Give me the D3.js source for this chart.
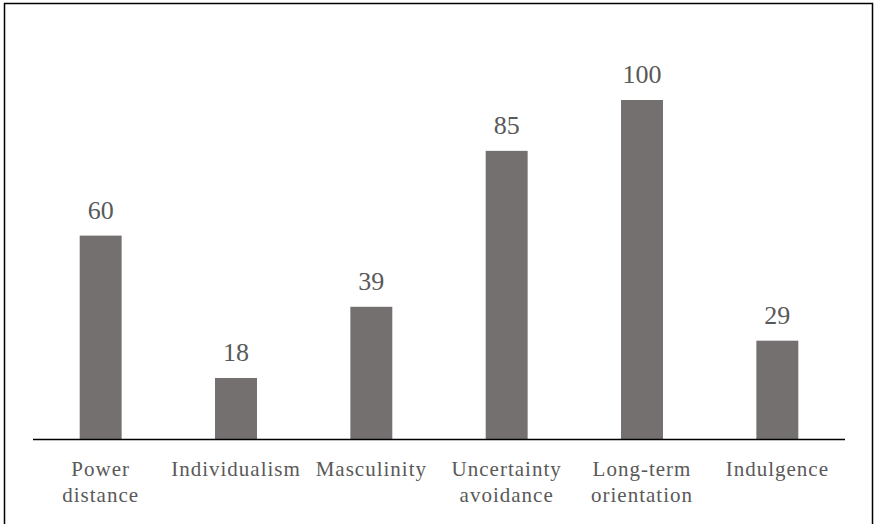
<!DOCTYPE html>
<html>
<head>
<meta charset="utf-8">
<script src="https://cdn.jsdelivr.net/npm/d3@7"></script>
<style>
  body { margin: 0; background: #fff; }
  svg { display: block; }
</style>
</head>
<body>
<svg id="chart"></svg>
<script>
// Data
const categories = [
  ['Power', 'distance'],
  ['Individualism'],
  ['Masculinity'],
  ['Uncertainty', 'avoidance'],
  ['Long-term', 'orientation'],
  ['Indulgence']
];
const scores = [60, 18, 39, 85, 100, 29];

const serif = "'Liberation Serif', serif";
const width = 875;
const height = 524;
const baseY = 439;

const svg = d3.select('#chart')
  .attr('width', width)
  .attr('height', height);

// outer frame (bottom edge runs off the picture)
svg.append('rect')
  .attr('x', 4.5)
  .attr('y', 3.5)
  .attr('width', 868)
  .attr('height', 540)
  .attr('fill', 'none')
  .attr('stroke', '#000')
  .attr('stroke-width', 1.5);

const keys = categories.map((c) => c.join(' '));

const x = d3.scaleBand()
  .domain(keys)
  .range([33, 845])
  .paddingInner(0.69)
  .paddingOuter(0.345);

const y = d3.scaleLinear()
  .domain([0, 100])
  .range([baseY, 100]);

// bars
svg.selectAll('.bar')
  .data(scores)
  .enter()
  .append('rect')
  .attr('class', 'bar')
  .attr('x', (d, i) => x(keys[i]))
  .attr('y', (d) => y(d))
  .attr('width', x.bandwidth())
  .attr('height', (d) => y(0) - y(d))
  .attr('fill', '#757070');

// value labels
svg.selectAll('.value')
  .data(scores)
  .enter()
  .append('text')
  .attr('class', 'value')
  .attr('x', (d, i) => x(keys[i]) + x.bandwidth() / 2)
  .attr('y', (d) => y(d) - 17)
  .attr('text-anchor', 'middle')
  .style('font-family', serif)
  .style('font-size', '26px')
  .attr('fill', '#595959')
  .text((d) => d);

// baseline
svg.append('line')
  .attr('x1', 33)
  .attr('x2', 845)
  .attr('y1', y(0) + 0.5)
  .attr('y2', y(0) + 0.5)
  .attr('stroke', '#000')
  .attr('stroke-width', 1.5);

// category labels
const labels = svg.selectAll('.cat')
  .data(categories)
  .enter()
  .append('text')
  .attr('class', 'cat')
  .attr('text-anchor', 'middle')
  .style('font-family', serif)
  .style('font-size', '21px')
  .style('letter-spacing', '1px')
  .attr('fill', '#595959');

labels.selectAll('tspan')
  .data((d, i) => d.map((t) => ({ t, cx: x(keys[i]) + x.bandwidth() / 2 })))
  .enter()
  .append('tspan')
  .attr('x', (d) => d.cx)
  .attr('y', (d, j) => 476 + j * 26)
  .text((d) => d.t);
</script>
</body>
</html>
